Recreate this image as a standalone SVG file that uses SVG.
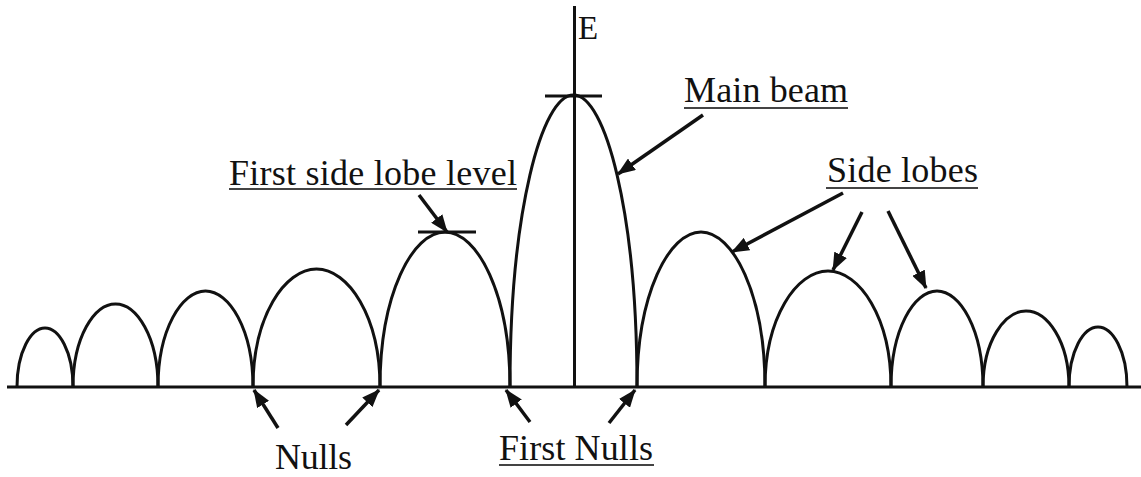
<svg xmlns="http://www.w3.org/2000/svg" width="1141" height="477" viewBox="0 0 1141 477">
<style>
.lobe{fill:none;stroke:#111;stroke-width:3}
.axis{fill:none;stroke:#111;stroke-width:3}
.arr{fill:none;stroke:#111;stroke-width:3.5;marker-end:url(#ah)}
.lbl{font-size:36px;fill:#111}
.ul{stroke:#444;stroke-width:2.2}
</style>
<defs>
<marker id="ah" markerUnits="userSpaceOnUse" markerWidth="18" markerHeight="14" refX="17" refY="7" orient="auto">
<path d="M0,0 L18,7 L0,14 z" fill="#111"/>
</marker>
</defs>
<rect width="1141" height="477" fill="#fff"/>
<g id="axes">
<line class="axis" x1="7" y1="387" x2="1141" y2="387"/>
<line class="axis" x1="574.5" y1="6" x2="574.5" y2="387"/>
<line class="axis" x1="545" y1="96" x2="602" y2="96"/>
<line class="axis" x1="418" y1="232" x2="476" y2="232"/>
</g>
<g id="lobes">
<path class="lobe" d="M17 387 C17 351.6 31 328 45 328 C59 328 73 351.6 73 387"/>
<path class="lobe" d="M73 387 C73 337.2 94.25 304 115.5 304 C136.75 304 158 337.2 158 387"/>
<path class="lobe" d="M158 387 C158 329.4 181.75 291 205.5 291 C229.25 291 253 329.4 253 387"/>
<path class="lobe" d="M253 387 C253 316.2 284.75 269 316.5 269 C348.25 269 380 316.2 380 387"/>
<path class="lobe" d="M380 387 C380 294 412.5 232 445 232 C477.5 232 510 294 510 387"/>
<path class="lobe" d="M510 387 C510 211.8 541.75 95 573.5 95 C605.25 95 637 211.8 637 387"/>
<path class="lobe" d="M637 387 C637 294 669 232 701 232 C733 232 765 294 765 387"/>
<path class="lobe" d="M765 387 C765 317.4 796.5 271 828 271 C859.5 271 891 317.4 891 387"/>
<path class="lobe" d="M891 387 C891 329.4 914 291 937 291 C960 291 983 329.4 983 387"/>
<path class="lobe" d="M983 387 C983 341.4 1004.5 311 1026 311 C1047.5 311 1069 341.4 1069 387"/>
<path class="lobe" d="M1069 387 C1069 351 1083.5 327 1098 327 C1112.5 327 1127 351 1127 387"/>
</g>
<g id="connectors">
<line class="arr" x1="703" y1="115" x2="618" y2="174"/>
<line class="arr" x1="419" y1="195" x2="447" y2="232"/>
<line class="arr" x1="843" y1="193" x2="732" y2="252"/>
<line class="arr" x1="862" y1="212" x2="833" y2="270"/>
<line class="arr" x1="888" y1="211" x2="926" y2="288"/>
<line class="arr" x1="278" y1="428" x2="254" y2="390"/>
<line class="arr" x1="346" y1="425" x2="379" y2="390"/>
<line class="arr" x1="530" y1="422" x2="506" y2="390"/>
<line class="arr" x1="609" y1="423" x2="635" y2="390"/>
</g>
<g id="label-E">
<text font-family="Times New Roman, Liberation Serif, DejaVu Serif, serif" font-size="33" fill="#111" x="578" y="39">E</text>
</g>
<g id="label-main-beam">
<text class="lbl" font-family="Times New Roman, Liberation Serif, DejaVu Serif, serif" x="684" y="102" textLength="164">Main beam</text>
<line class="ul" x1="684" y1="108" x2="848" y2="108"/>
</g>
<g id="label-first-side-lobe-level">
<text class="lbl" font-family="Times New Roman, Liberation Serif, DejaVu Serif, serif" x="229" y="185" textLength="288">First side lobe level</text>
<line class="ul" x1="229" y1="189" x2="517" y2="189"/>
</g>
<g id="label-side-lobes">
<text class="lbl" font-family="Times New Roman, Liberation Serif, DejaVu Serif, serif" x="827" y="182" textLength="151">Side lobes</text>
<line class="ul" x1="826" y1="188" x2="978" y2="188"/>
</g>
<g id="label-nulls">
<text class="lbl" font-family="Times New Roman, Liberation Serif, DejaVu Serif, serif" x="275" y="469" textLength="77">Nulls</text>
</g>
<g id="label-first-nulls">
<text class="lbl" font-family="Times New Roman, Liberation Serif, DejaVu Serif, serif" x="499" y="460" textLength="154">First Nulls</text>
<line class="ul" x1="499" y1="465" x2="654" y2="465"/>
</g>
</svg>
